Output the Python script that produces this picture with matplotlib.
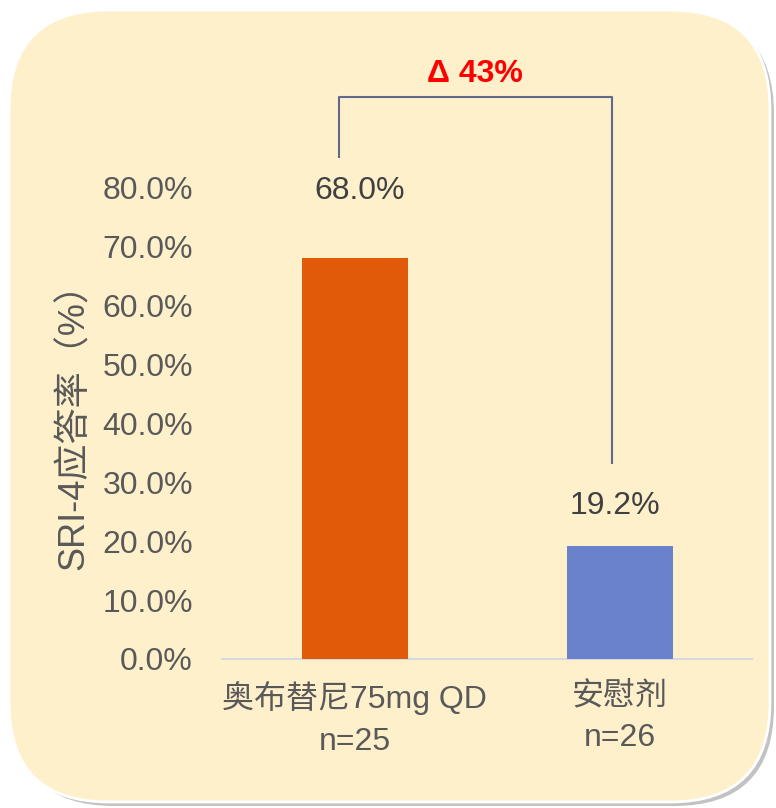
import matplotlib.pyplot as plt
from matplotlib.patches import FancyBboxPatch
from matplotlib.transforms import IdentityTransform

plt.rcParams['font.family'] = ['Liberation Sans', 'Noto Sans CJK SC', 'DejaVu Sans']

# Daten
gruppen = ['奥布替尼75mg QD\nn=25', '安慰剂\nn=26']
werte = [0.680, 0.192]
wert_labels = ['68.0%', '19.2%']
label_y = [0.795, 0.260]
label_dx = [0.02, -0.017]
farben = ['#E05A0A', '#6A82CC']
yticks = [0.0, 0.1, 0.2, 0.3, 0.4, 0.5, 0.6, 0.7, 0.8]
delta_text = 'Δ 43%'

textfarbe = '#595959'

fig = plt.figure(figsize=(7.76, 8.08), dpi=100)
fig.patch.set_facecolor('white')

# Hintergrund-Box mit Schatten (Pixelkoordinaten)
schatten = FancyBboxPatch((14, 2), 760, 792, boxstyle='round,pad=0,rounding_size=100',
                          transform=IdentityTransform(), facecolor='#9a9a9a',
                          edgecolor='none', alpha=0.6, zorder=0)
box = FancyBboxPatch((9, 6), 761, 792, boxstyle='round,pad=0,rounding_size=100',
                     transform=IdentityTransform(), facecolor='#FFF0CC',
                     edgecolor='white', linewidth=2, zorder=1)
fig.patches.extend([schatten, box])

ax = fig.add_axes([222 / 776, 1 - 659 / 808, 530 / 776, 589 / 808])
ax.set_facecolor('none')
ax.set_zorder(2)

x = [0, 1]
ax.bar(x, werte, width=0.4, color=farben, zorder=3)

for xi, lab, ly, dx in zip(x, wert_labels, label_y, label_dx):
    ax.text(xi + dx, ly, lab, ha='center', va='center', fontsize=23, color='#404040')

ax.set_xlim(-0.5, 1.5)
ax.set_ylim(0, 1.0)
ax.set_yticks(yticks)
ax.set_yticklabels([f'{v * 100:.1f}%' for v in yticks])
ax.set_xticks(x)
ax.set_xticklabels(gruppen, linespacing=1.5)
ax.tick_params(axis='y', length=0, pad=21, labelsize=23, labelcolor=textfarbe)
ax.tick_params(axis='x', length=0, pad=16, labelsize=23, labelcolor=textfarbe)

for s in ['top', 'right', 'left']:
    ax.spines[s].set_visible(False)
ax.spines['bottom'].set_color('#D5D9E2')
ax.spines['bottom'].set_linewidth(1.5)

ax.set_ylabel('SRI-4应答率（%）', fontsize=26, color=textfarbe)
ax.yaxis.set_label_coords(-0.245, 0.41)

# Klammer fuer den Unterschied
bx = [-0.058, -0.058, 0.972, 0.972]
by = [0.852, 0.954, 0.954, 0.333]
ax.plot(bx, by, color='#5F6B8C', linewidth=1.5, clip_on=False, zorder=3)
ax.text(0.455, 0.993, delta_text, ha='center', va='center', fontsize=23,
        fontweight='bold', color='#FF0000', clip_on=False)

fig.savefig('out.png', dpi=100, facecolor='white')
